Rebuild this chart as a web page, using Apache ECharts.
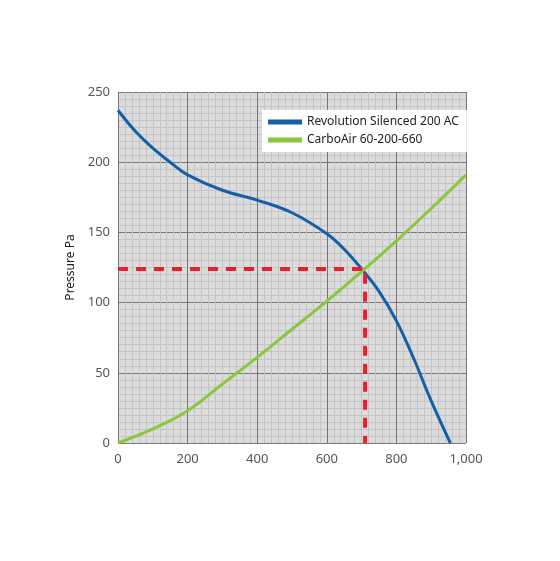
<!DOCTYPE html><html><head><meta charset="utf-8"><script src="https://cdn.jsdelivr.net/npm/echarts@6/dist/echarts.min.js"></script></head><body style="margin:0;background:#fff"><div id="c" style="width:560px;height:561px"></div><script>
const xTicks=[0,200,400,600,800,1000];
const yTicks=[0,50,100,150,200,250];
const revolution=[[0,237],[50,222],[100,210],[150,200],[200,191],[300,180],[400,173],[500,164],[600,149],[650,138],[700,124],[750,108],[800,87],[850,60],[900,30],[955,0]];
const carbo=[[0,0],[100,10],[200,23],[300,42],[400,61],[500,81],[600,101],[700,122],[800,144],[900,167],[1000,191]];
const operating=[[0,124],[710,124],[710,0]];
const names=['Revolution Silenced 200 AC','CarboAir 60-200-660'];
const ch=echarts.init(document.getElementById('c'));
const axisCommon={axisLine:{show:false},axisTick:{show:false},axisLabel:{color:'#555',fontFamily:'Noto Sans',fontSize:13},
 splitLine:{show:true,lineStyle:{color:'#777',width:1}},minorTick:{show:false,splitNumber:10},minorSplitLine:{show:true,lineStyle:{color:'#c4c4c4',width:1}}};
ch.setOption({
 grid:{left:118,right:94,top:92,bottom:118,backgroundColor:'#dcdcdc',show:true,borderWidth:0},
 legend:{data:names,top:110,left:262,orient:'vertical',backgroundColor:'#fff',padding:[6,8,6,6],itemWidth:34,itemHeight:5,itemGap:6,
  textStyle:{fontFamily:'Noto Sans',fontSize:12,color:'#222'},icon:'rect'},
 xAxis:{type:'value',min:0,max:1000,interval:200,...axisCommon,axisLabel:{...axisCommon.axisLabel,margin:10}},
 yAxis:{type:'value',min:0,max:250,interval:50,name:'Pressure Pa',nameLocation:'middle',nameGap:36,nameTextStyle:{color:'#222',fontFamily:'Noto Sans',fontSize:12},...axisCommon},
 series:[
  {name:names[0],type:'line',smooth:0.4,symbol:'none',data:revolution,lineStyle:{color:'#1460a8',width:3},itemStyle:{color:'#1460a8'},z:3},
  {name:names[1],type:'line',smooth:0.4,symbol:'none',data:carbo,lineStyle:{color:'#8cc63f',width:3},itemStyle:{color:'#8cc63f'},z:3},
  {type:'line',symbol:'none',data:operating,lineStyle:{color:'#e8202a',width:4,type:[10,8]},z:4,silent:true}
 ]});
</script></body></html>
